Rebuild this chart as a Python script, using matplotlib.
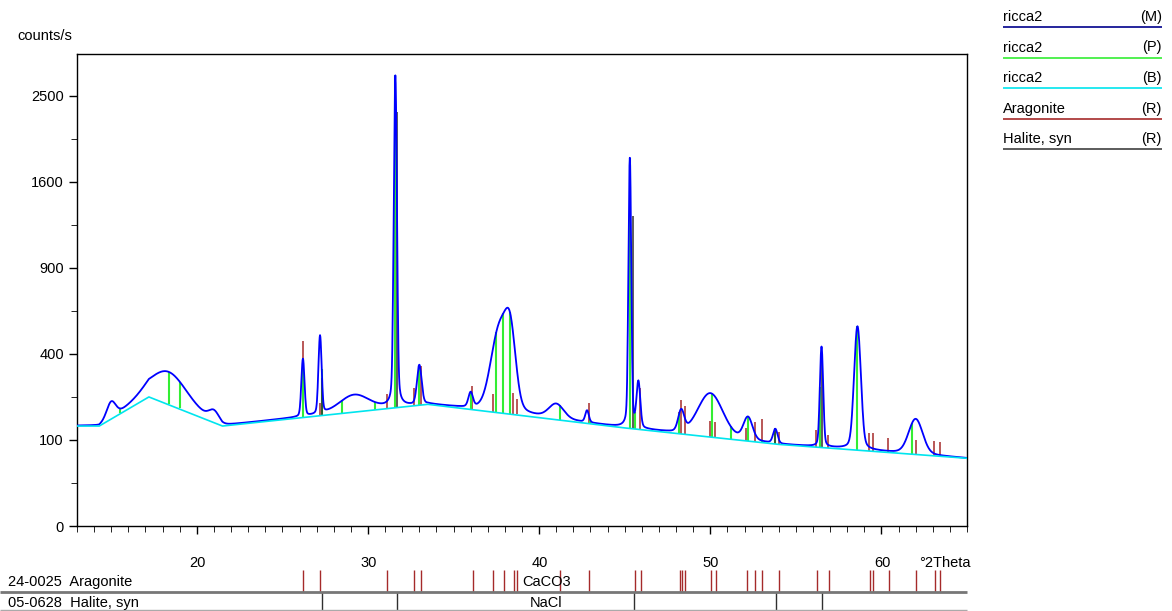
import numpy as np
import matplotlib.pyplot as plt
from matplotlib.ticker import FixedLocator, MultipleLocator

plt.rcParams['font.family'] = ['Liberation Sans', 'DejaVu Sans']

# background (B) knots: 2theta, counts/s
bg_theta = [13.0, 14.3, 17.2, 21.5, 33.5, 45.0, 54.0, 65.0]
bg_counts = [135, 135, 225, 135, 200, 130, 90, 62]

# peaks of the measured scan: position, height above background, width
pk_pos = [15.0, 18.3, 21.0, 26.2, 27.2, 29.2, 31.6, 33.0, 36.0, 37.7, 38.3,
          41.0, 42.8, 45.3, 45.8, 48.3, 50.0, 52.2, 53.8, 56.5, 58.6, 62.0]
pk_amp = [50, 120, 30, 215, 320, 55, 2550, 150, 50, 350, 290,
          45, 35, 1700, 150, 60, 130, 60, 35, 350, 460, 85]
pk_wid = [0.3, 1.2, 0.35, 0.1, 0.1, 1.0, 0.09, 0.15, 0.15, 0.55, 0.35,
          0.5, 0.12, 0.08, 0.12, 0.2, 0.8, 0.3, 0.15, 0.1, 0.2, 0.45]

# profile fit stick positions (P)
stick_pos = [15.5, 18.4, 19.0, 26.2, 27.3, 28.5, 30.4, 31.6, 33.0, 36.0, 37.5,
             37.9, 38.3, 41.2, 43.0, 45.3, 45.6, 48.2, 50.1, 51.2, 52.2, 53.0,
             53.8, 56.4, 58.6, 61.8]

# reference patterns
arag_pos = [26.2, 27.2, 31.1, 32.7, 33.1, 36.1, 37.3, 37.9, 38.5, 38.7, 41.2,
            42.9, 45.6, 45.9, 48.2, 48.3, 48.5, 50.0, 50.3, 52.1, 52.6, 53.0,
            54.0, 56.2, 56.9, 59.3, 59.5, 60.4, 62.0, 63.1, 63.4]
arag_int = [300, 40, 50, 60, 150, 80, 60, 110, 70, 50, 40,
            60, 40, 130, 60, 100, 80, 40, 40, 30, 50, 60,
            30, 40, 30, 40, 40, 30, 30, 30, 30]
hal_pos = [27.3, 31.7, 45.5, 53.8, 56.5]
hal_int = [130, 2130, 1170, 40, 320]

theta = np.arange(13.0, 65.0, 0.02)
bg = np.interp(theta, bg_theta, bg_counts)
counts = bg.copy()
for p, a, w in zip(pk_pos, pk_amp, pk_wid):
    x = (theta - p) / w
    counts += a * (0.8 * np.exp(-np.log(2) * x ** 2) + 0.2 / (1 + x ** 2))

fig = plt.figure(figsize=(11.72, 6.11), dpi=100)
ax = fig.add_axes([77 / 1172, 85 / 611, 890 / 1172, 472 / 611])
ax.set_yscale('function', functions=(lambda v: np.sqrt(np.maximum(v, 0)),
                                     lambda v: np.square(v)))

for p, a in zip(arag_pos, arag_int):
    b = np.interp(p, bg_theta, bg_counts)
    ax.vlines(p, b, b + a, color='#a52a2a', lw=1.1, zorder=2)
sv = np.interp(stick_pos, theta, counts)
sb = np.interp(stick_pos, bg_theta, bg_counts)
ax.vlines(stick_pos, sb, sv, color='#33ee33', lw=1.5, zorder=3)
for p, a in zip(hal_pos, hal_int):
    b = np.interp(p, bg_theta, bg_counts)
    ax.vlines(p, b, b + a, color='#303030', lw=1.1, zorder=4)
ax.plot(theta, counts, color='#0000ff', lw=1.3, zorder=5)
ax.plot(bg_theta, bg_counts, color='#00e5ee', lw=1.2, zorder=6)

ax.set_xlim(13, 65)
ax.set_ylim(0, 3010)
ax.yaxis.set_major_locator(FixedLocator([0, 100, 400, 900, 1600, 2500]))
ax.yaxis.set_minor_locator(FixedLocator([25, 225, 625, 1225, 2025]))
ax.yaxis.set_minor_formatter(plt.NullFormatter())
ax.xaxis.set_major_locator(MultipleLocator(10))
ax.xaxis.set_minor_locator(MultipleLocator(1))
ax.tick_params(labelsize=10.5, length=6, width=1)
ax.tick_params(which='minor', length=4)
ax.tick_params(axis='x', labelbottom=False)
for s in ax.spines.values():
    s.set_linewidth(1)
fig.text(17 / 1172, 1 - 36 / 611, 'counts/s', fontsize=10.5, va='center')

# x labels and reference strips
ty = 1 - 563 / 611
for v in [20, 30, 40, 50, 60]:
    fig.text((197 + (v - 20) * 17.125) / 1172, ty, str(v), fontsize=10.5, ha='center', va='center')
fig.text(945 / 1172, ty, '°2Theta', fontsize=10.5, ha='center', va='center')

sx = fig.add_axes([0, 0, 1, 1], facecolor='none')
sx.set_xlim(0, 1172)
sx.set_ylim(611, 0)
sx.axis('off')
px = lambda d: 197 + (np.asarray(d) - 20) * 17.125
sx.vlines(px(arag_pos), 570, 592, color='#a52a2a', lw=1)
sx.vlines(px(hal_pos), 592, 611, color='#303030', lw=1)
sx.hlines(592, 0, 967, color='#777777', lw=2)
sx.hlines(610, 0, 967, color='#aaaaaa', lw=1)
sx.text(8, 582, '24-0025  Aragonite', fontsize=10.5, va='center')
sx.text(8, 603, '05-0628  Halite, syn', fontsize=10.5, va='center')
sx.text(px(40.4), 582, 'CaCO3', fontsize=10.5, va='center', ha='center')
sx.text(px(40.4), 603, 'NaCl', fontsize=10.5, va='center', ha='center')

leg_names = ['ricca2', 'ricca2', 'ricca2', 'Aragonite', 'Halite, syn']
leg_tags = ['(M)', '(P)', '(B)', '(R)', '(R)']
leg_cols = ['#00008b', '#33ee33', '#00e5ee', '#a52a2a', '#404040']
for i, (n, t, c) in enumerate(zip(leg_names, leg_tags, leg_cols)):
    y = 17 + i * 30.5
    sx.text(1003, y, n, fontsize=10.5, va='center')
    sx.text(1162, y, t, fontsize=10.5, va='center', ha='right')
    sx.hlines(y + 10, 1003, 1162, color=c, lw=1.2)

fig.savefig('out.png', dpi=100)
